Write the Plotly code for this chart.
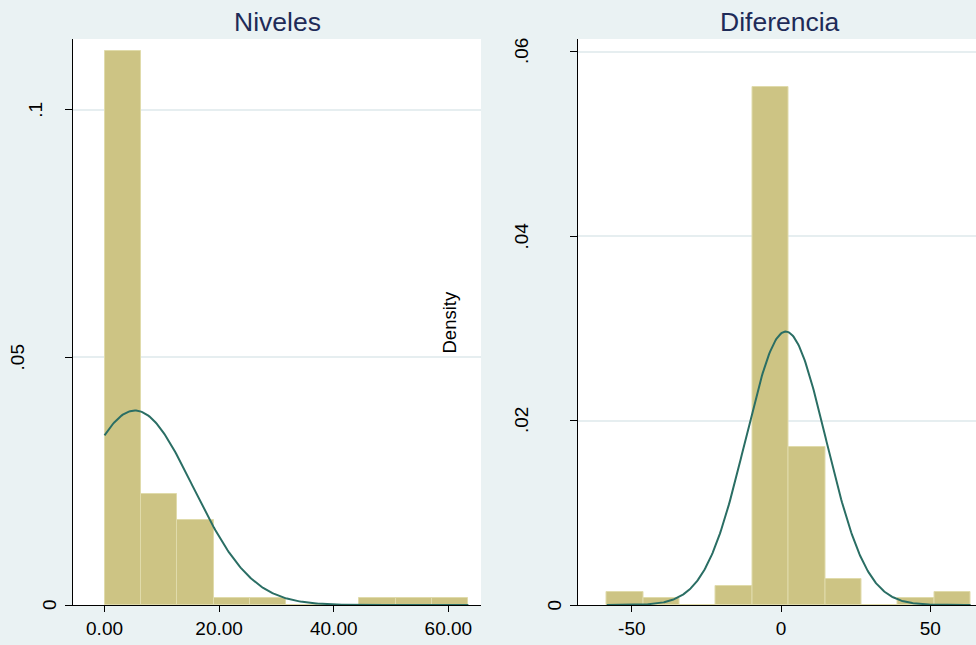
import numpy as np
import plotly.graph_objects as go

# ---------------- data ----------------
panel_titles = ["Niveles", "Diferencia"]

# Niveles histogram (density scale)
niveles_bin_left = [0.0, 6.35, 12.70, 19.05, 25.40, 31.75, 38.10, 44.45, 50.80, 57.15]
niveles_bin_width = 6.35
niveles_density = [0.1118, 0.0225, 0.0171, 0.0015, 0.0015, 0.0, 0.0, 0.0015, 0.0015, 0.0015]
niveles_mean = 5.3
niveles_sd = 10.16
niveles_min, niveles_max = 0.0, 63.5

# Diferencia histogram (density scale)
dif_bin_left = [-58.40, -46.21, -34.02, -21.83, -9.64, 2.55, 14.74, 26.93, 39.12, 51.31]
dif_bin_width = 12.19
dif_density = [0.00138, 0.00073, 0.0, 0.00209, 0.05612, 0.01713, 0.00278, 0.0, 0.00073, 0.00138]
dif_mean = 1.57
dif_sd = 13.46
dif_min, dif_max = -58.40, 63.5

# tick values / labels
niveles_xticks = [0, 20, 40, 60]
niveles_xlabels = ["0.00", "20.00", "40.00", "60.00"]
niveles_yticks = [0, 0.05, 0.1]
niveles_ylabels = ["0", ".05", ".1"]
dif_xticks = [-50, 0, 50]
dif_xlabels = ["-50", "0", "50"]
dif_yticks = [0, 0.02, 0.04, 0.06]
dif_ylabels = ["0", ".02", ".04", ".06"]
y_title = "Density"

# ---------------- styling ----------------
W, H = 976, 645
BG = "#eaf2f3"
BAR = "#cdc484"
BAR_EDGE = "#e0dbab"
CURVE = "#2a6e64"
GRID = "#e6eef0"
TITLE_C = "#1e2b58"
FONT = "Liberation Sans, Arial, sans-serif"

x1_dom = [73 / W, 481 / W]
x2_dom = [577.5 / W, 1.0]
y_dom = [(H - 605) / H, (H - 39) / H]


def normal_pdf(x, m, s):
    return np.exp(-0.5 * ((x - m) / s) ** 2) / (s * np.sqrt(2 * np.pi))


fig = go.Figure()

# Niveles bars
fig.add_trace(go.Bar(
    x=[b + niveles_bin_width / 2 for b in niveles_bin_left], y=niveles_density,
    width=niveles_bin_width, marker=dict(color=BAR, line=dict(color=BAR_EDGE, width=1)),
    xaxis="x", yaxis="y", showlegend=False, hoverinfo="skip"))
xs = np.linspace(niveles_min, niveles_max, 300)
fig.add_trace(go.Scatter(x=xs, y=normal_pdf(xs, niveles_mean, niveles_sd), mode="lines",
                         line=dict(color=CURVE, width=2), xaxis="x", yaxis="y",
                         showlegend=False, hoverinfo="skip"))

# Diferencia bars
fig.add_trace(go.Bar(
    x=[b + dif_bin_width / 2 for b in dif_bin_left], y=dif_density,
    width=dif_bin_width, marker=dict(color=BAR, line=dict(color=BAR_EDGE, width=1)),
    xaxis="x2", yaxis="y2", showlegend=False, hoverinfo="skip"))
xs2 = np.linspace(dif_min, dif_max, 400)
fig.add_trace(go.Scatter(x=xs2, y=normal_pdf(xs2, dif_mean, dif_sd), mode="lines",
                         line=dict(color=CURVE, width=2), xaxis="x2", yaxis="y2",
                         showlegend=False, hoverinfo="skip"))

xcommon = dict(showline=True, linecolor="black", linewidth=1, ticks="outside", ticklen=6,
               tickcolor="black", showgrid=False, zeroline=False,
               tickfont=dict(family=FONT, size=19, color="black"), fixedrange=True)
ycommon = dict(showline=True, linecolor="black", linewidth=1, ticks="outside", ticklen=7,
               tickcolor="black", showgrid=True, gridcolor=GRID, gridwidth=1.5, zeroline=False,
               showticklabels=False, fixedrange=True)

fig.update_layout(
    width=W, height=H, margin=dict(l=0, r=0, t=0, b=0),
    paper_bgcolor=BG, plot_bgcolor="white", bargap=0,
    xaxis=dict(domain=x1_dom, range=[-5.5, 65.7], tickvals=niveles_xticks,
               ticktext=niveles_xlabels, anchor="y", **xcommon),
    yaxis=dict(domain=y_dom, range=[0, 0.1143], tickvals=niveles_yticks, anchor="x", **ycommon),
    xaxis2=dict(domain=x2_dom, range=[-68.2, 65.3], tickvals=dif_xticks,
                ticktext=dif_xlabels, anchor="y2", **xcommon),
    yaxis2=dict(domain=y_dom, range=[0, 0.06136], tickvals=dif_yticks, anchor="x2", **ycommon),
)

ann = []
# panel titles
for t, cx in zip(panel_titles, [277 / W, 780 / W]):
    ann.append(dict(text=t, x=cx, y=(H - 22) / H, xref="paper", yref="paper",
                    xanchor="center", yanchor="middle", showarrow=False,
                    font=dict(family=FONT, size=26.5, color=TITLE_C)))

# rotated y tick labels (Stata style)
for vals, labs, yref, xpos in [(niveles_yticks, niveles_ylabels, "y", x1_dom[0]),
                               (dif_yticks, dif_ylabels, "y2", x2_dom[0])]:
    for v, lab in zip(vals, labs):
        ann.append(dict(text=lab, x=xpos, y=v, xref="paper", yref=yref,
                        xanchor="center", yanchor="middle", showarrow=False, textangle=-90,
                        xshift=-(8 + 16 * len(lab)) + (3 if len(lab) == 2 else 0),
                        font=dict(family=FONT, size=19, color="black")))

# y-axis title
ann.append(dict(text=y_title, x=449 / W, y=(H - 322.5) / H, xref="paper", yref="paper",
                xanchor="center", yanchor="middle", showarrow=False, textangle=-90,
                font=dict(family=FONT, size=18.5, color="black")))

fig.update_layout(annotations=ann)
fig.write_html(
    "out.html",
    config={"displayModeBar": False},
    post_script="document.body.style.margin='0';document.body.style.padding='0';"
                "document.body.style.overflow='hidden';",
)
